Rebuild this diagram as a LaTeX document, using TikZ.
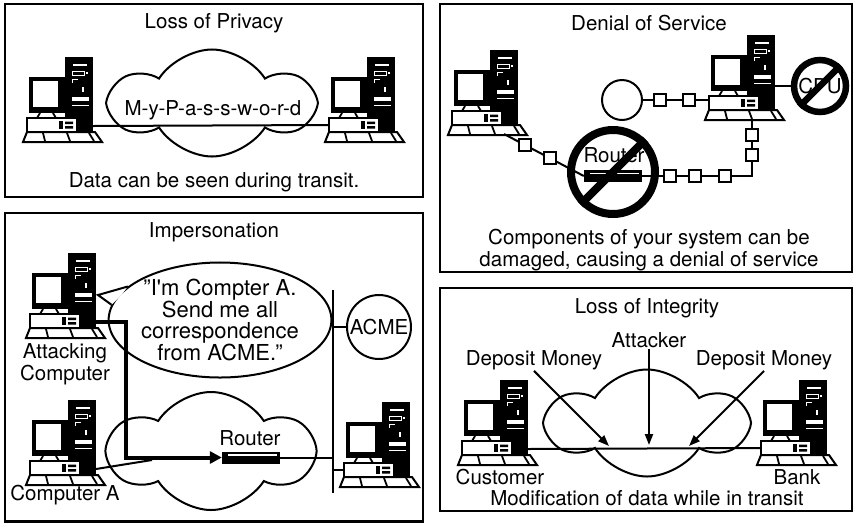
\documentclass[tikz,border=0pt]{standalone}
\usepackage{fontspec}
\setmainfont{TeX Gyre Heros}
\usetikzlibrary{positioning,arrows.meta,shapes.symbols,shapes.geometric}

% desktop computer: tower, monitor, case and keyboard
\tikzset{
    pc/.pic={
        % tower
        \fill (0,0) rectangle (28,81);
        \fill[white] (8,7) rectangle (22,8.5);
        \draw[white, line width=.8pt] (7,14) rectangle (19,18);
        \fill[white] (21,15) rectangle (23,17);
        \draw[white, line width=.8pt] (7,26) -- (7,22) -- (13,22);
        \fill[white] (17,30) rectangle (18.5,35);
        \fill[white] (7,40) rectangle (24,44);
        \fill[white] (7,48) rectangle (24,49);
        % monitor
        \fill (-36,20) rectangle (3,56);
        \fill[white] (-32,24) rectangle (-7,50);
        \draw[line width=1.8pt] (-25,56) -- (-28,61) (-12,56) -- (-9,61);
        % case
        \filldraw[fill=white, line width=2pt] (-38,61) rectangle (12,75);
        \fill (-6,64) rectangle (-2,72);
        \fill (0,64.5) rectangle (8,67) (0,69) rectangle (8,71.5);
        % keyboard
        \filldraw[fill=white, line width=2pt] (-38,75) -- (30,75) -- (37,85) -- (-42,85) -- cycle;
        \draw[line width=1.8pt] (-22,76) -- (-20,84) (2,76) -- (5,84) (24,76) -- (29,84);
        % ports
        \coordinate (-east) at (28,69);
        \coordinate (-west) at (-38,68);
        \coordinate (-south) at (5,85);
        \coordinate (-foot) at (14,84);
    }
}

\begin{document}
\begin{tikzpicture}[x=1pt, y=-1pt,
        panel/.style={draw, line width=2.2pt},
        lbl/.style={font=\fontsize{20.5}{22}\selectfont, inner sep=1pt, align=center},
        net/.style={line width=2pt},
        puffy/.style={cloud, cloud puffs=6, cloud puff arc=115, draw, line width=2pt, inner sep=0pt},
        link/.style={draw, fill=white, line width=2pt, minimum size=12pt, inner sep=0pt},
        router/.style={fill=black, minimum width=58pt, minimum height=12pt, inner sep=0pt,
            path picture={\draw[white, line width=1.2pt]
                ([xshift=6pt,yshift=-3.5pt]path picture bounding box.north west) --
                ([xshift=-3pt,yshift=-3.5pt]path picture bounding box.north east);}},
        nosign/.style={circle, draw, inner sep=0pt},
        ptr/.style={-{Triangle[length=11pt,width=8pt]}, line width=2pt}
    ]
    \useasboundingbox (0,0) rectangle (853,523);

    % Loss of Privacy
    \draw[panel] (5,4) rectangle (423,197);
    \node[lbl] (privT) at (214,23) {Loss of Privacy};
    \pic (pcA) at (65,57) {pc};
    \pic (pcB) at (367,57) {pc};
    \node[puffy, minimum width=199pt, minimum height=107pt] (cloudP) at (212,103) {};
    \draw[net] (pcA-east) -- (pcB-west);
    \node[lbl] (pwd) at (213,110) {M-y-P-a-s-s-w-o-r-d};
    \node[lbl] (privB) at (214,182) {Data can be seen during transit.};

    % Denial of Service
    \draw[panel] (440,4) rectangle (852,272);
    \node[lbl] (dosT) at (649,23) {Denial of Service};
    \pic (pcC) at (490,50) {pc};
    \pic (pcD) at (747,35) {pc};
    \node[nosign, line width=2pt, minimum size=40pt] (peer) at (622,100) {};
    \draw[net] (peer.east) -- (peer.east -| pcD-west) node[link, pos=.26] {} node[link, pos=.69] {};
    \node[router] (rtD) at (613,176) {};
    \node[lbl] (rtDl) at (614,155) {Router};
    \coordinate (bendD) at (pcD-south |- rtD.east);
    \draw[net] (pcC-foot) -- (rtD.west) node[link, pos=.26] {} node[link, pos=.58] {};
    \draw[net] (rtD.east) -- (bendD) node[link, pos=.25] {} node[link, pos=.48] {} node[link, pos=.75] {}
        -- (pcD-south) node[link, pos=.37] {} node[link, pos=.73] {};
    \node[lbl, nosign, inner sep=0pt, line width=6.5pt, minimum size=52pt] (banC) at (820,86) {CPU};
    \draw[net] (banC.west) -- (banC.west -| pcD-east);
    \draw[line width=6.5pt] (banC.45) -- (banC.225);
    \node[nosign, line width=8pt, minimum size=84pt] (banR) at (613,172) {};
    \draw[line width=8pt] (banR.45) -- (banR.225);
    \node[lbl] (dosB) at (649,250) {Components of your system can be\\damaged, causing a denial of service};

    % Impersonation
    \draw[panel] (5,213) rectangle (423,521.5);
    \node[lbl] (impT) at (214,232) {Impersonation};
    \pic (pcAtk) at (68,253) {pc};
    \node[lbl] (atkL) at (65,364) {Attacking\\Computer};
    \pic (pcCa) at (68,400) {pc};
    \node[lbl] (caL) at (65,495) {Computer A};
    \pic (pcAcme) at (382,402) {pc};
    \node[puffy, minimum width=202pt, minimum height=118pt] (cloudI) at (211,451) {};
    \node[router] (rtI) at (251,457.5) {};
    \node[lbl] (rtIl) at (250,438) {Router};
    \coordinate (busT) at (333,290);
    \coordinate (busB) at (333,493);
    \draw[net] (busT) -- (busB);
    \draw[net] (rtI.east) -- (rtI.east -| busT);
    \node[lbl, nosign, inner sep=0pt, line width=2pt, minimum size=64pt] (acme) at (379,327) {ACME};
    \draw[net] (acme.west) -- (acme.west -| busT);
    \draw[net] (pcAcme-west) -- (pcAcme-west -| busT);
    \coordinate (caEnd) at (152,460);
    \draw[net] (pcCa-east) -- (caEnd);
    \draw[line width=4pt, -{Triangle[length=12pt,width=12pt]}] (pcAtk-east) -- ++(30,0) |- (rtI.west);
    \node[lbl, font=\fontsize{22}{21.5}\selectfont, ellipse, draw, inner sep=0pt, line width=2pt,
        minimum width=186pt, minimum height=112pt]
        (say) at (220,320) {"I\textquotesingle m Compter A.\\Send me all\\correspondence\\from ACME."};
    \coordinate (sayTip) at (98,295);
    \fill[white] (sayTip) -- (say.160) -- ([xshift=3pt]say.166) -- (say.172) -- cycle;
    \draw[net] (say.160) -- (sayTip) -- (say.172);

    % Loss of Integrity
    \draw[panel] (440,288) rectangle (852,511);
    \node[lbl] (intT) at (647,308) {Loss of Integrity};
    \node[lbl] (atk) at (649,340) {Attacker};
    \node[lbl] (depL) at (534,360) {Deposit Money};
    \node[lbl] (depR) at (764,360) {Deposit Money};
    \pic (pcCust) at (500,380) {pc};
    \pic (pcBank) at (799,380) {pc};
    \node[puffy, minimum width=196pt, minimum height=107pt] (cloudM) at (647,423) {};
    \draw[net] (pcCust-east) -- (pcBank-west);
    \coordinate (hitL) at (609,446);
    \coordinate (hitM) at (649,445);
    \coordinate (hitR) at (689,446);
    \draw[ptr] (depL.south) -- (hitL);
    \draw[ptr] (atk.south) -- (hitM);
    \draw[ptr] (depR.south) -- (hitR);
    \node[lbl] (custL) at (500,477) {Customer};
    \node[lbl] (bankL) at (797,477) {Bank};
    \node[lbl] (intB) at (647,498) {Modification of data while in transit};
\end{tikzpicture}
\end{document}
